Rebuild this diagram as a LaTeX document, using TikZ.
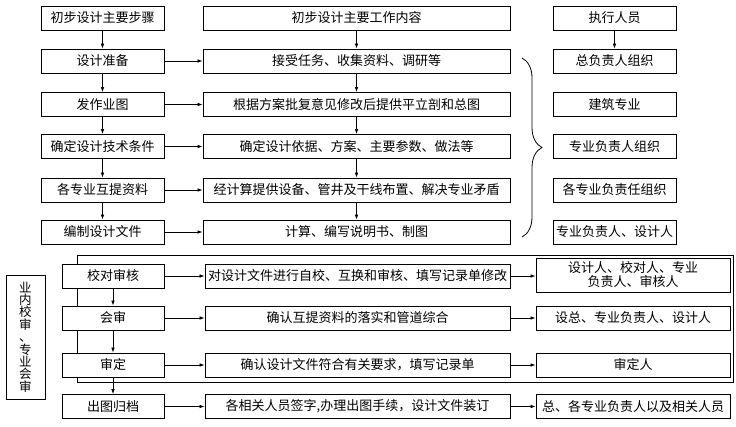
\documentclass[tikz,border=0pt]{standalone}
\usepackage{fontspec}
\newfontfamily\cjk{Noto Sans CJK SC}
\usetikzlibrary{arrows.meta,decorations.pathreplacing}
\begin{document}
\begin{tikzpicture}[x=1pt,y=-1pt,
  box/.style={draw, line width=0.9pt, fill=white, inner sep=0pt, align=center,
    font=\cjk\fontsize{13}{14}\selectfont, minimum height=24pt},
  lbox/.style={box, minimum width=123pt},
  mbox/.style={box, minimum width=307pt},
  blbox/.style={box, minimum width=102pt},
  bmbox/.style={box, minimum width=305pt},
  brbox/.style={box, minimum width=194pt},
  arr/.style={-{Latex[length=5pt,width=3.6pt]}, line width=0.7pt}]
\useasboundingbox (0,0) rectangle (736,427);
\fill[white] (0,0) rectangle (736,427);
% frame for review section
\draw[line width=0.9pt] (77,255) rectangle (733,382);
% top section
\node[lbox] (L1) at (102.5,18) {初步设计主要步骤};
\node[lbox] (L2) at (102.5,61) {设计准备};
\node[lbox] (L3) at (102.5,104.5) {发作业图};
\node[lbox] (L4) at (102.5,146.5) {确定设计技术条件};
\node[lbox] (L5) at (102.5,190) {各专业互提资料};
\node[lbox] (L6) at (102.5,232) {编制设计文件};
\node[mbox] (M1) at (356.5,18) {初步设计主要工作内容};
\node[mbox] (M2) at (356.5,61) {接受任务、收集资料、调研等};
\node[mbox] (M3) at (356.5,104.5) {根据方案批复意见修改后提供平立剖和总图};
\node[mbox] (M4) at (356.5,146.5) {确定设计依据、方案、主要参数、做法等};
\node[mbox] (M5) at (356.5,190) {经计算提供设备、管井及干线布置、解决专业矛盾};
\node[mbox] (M6) at (356.5,232) {计算、编写说明书、制图};
\node[lbox] (R1) at (614.5,18) {执行人员};
\node[lbox] (R2) at (614.5,61) {总负责人组织};
\node[lbox] (R3) at (614.5,104.5) {建筑专业};
\node[lbox] (R4) at (614.5,146.5) {专业负责人组织};
\node[lbox] (R5) at (614.5,190) {各专业负责任组织};
\node[lbox] (R6) at (614.5,232) {专业负责人、设计人};
\foreach \a/\b in {L1/L2,L2/L3,L3/L4,L4/L5,L5/L6,M1/M2,M2/M3,M3/M4,M4/M5,M5/M6,R1/R2}
  \draw[arr] (\a.south) -- (\b.north);
\foreach \i in {2,...,6}
  \draw[arr] (L\i.east) -- (M\i.west);
\draw[decorate, decoration={brace, amplitude=20pt}, line width=0.8pt] (522,58) -- (522,237);
% bottom section
\node[box, minimum width=39pt, minimum height=124pt, font=\cjk\fontsize{12.5}{12.4}\selectfont]
  (V) at (25.5,337) {业\\内\\校\\审\\、\\专\\业\\会\\审};
\node[blbox] (BL1) at (113,276) {校对审核};
\node[blbox] (BL2) at (113,318) {会审};
\node[blbox] (BL3) at (113,365) {审定};
\node[blbox] (BL4) at (113,406.5) {出图归档};
\node[bmbox] (BM1) at (357.5,276) {对设计文件进行自校、互换和审核、填写记录单修改};
\node[bmbox] (BM2) at (357.5,318) {确认互提资料的落实和管道综合};
\node[bmbox] (BM3) at (357.5,365) {确认设计文件符合有关要求，填写记录单};
\node[bmbox] (BM4) at (357.5,406.5) {各相关人员签字,办理出图手续，设计文件装订};
\node[brbox, minimum height=34pt, font=\cjk\fontsize{13}{14}\selectfont] (BR1) at (633,275) {设计人、校对人、专业\\负责人、审核人};
\node[brbox] (BR2) at (633,318) {设总、专业负责人、设计人};
\node[brbox] (BR3) at (633,365) {审定人};
\node[brbox] (BR4) at (633,406.5) {总、各专业负责人以及相关人员};
\foreach \a/\b in {BL1/BL2,BL2/BL3,BL3/BL4}
  \draw[arr] (\a.south) -- (\b.north);
\foreach \i in {1,...,4}{
  \draw[arr] (BL\i.east) -- (BM\i.west);
  \draw[arr] (BM\i.east) -- (BR\i.west |- BM\i.east);
}
\end{tikzpicture}
\end{document}
